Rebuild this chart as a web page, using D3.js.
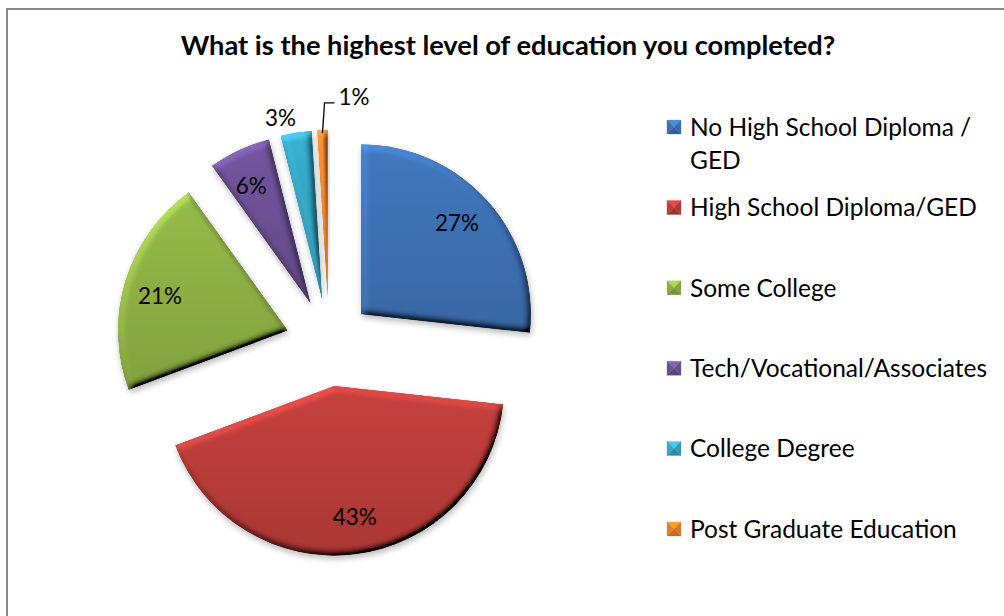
<!DOCTYPE html>
<html>
<head>
<meta charset="utf-8">
<script src="https://cdn.jsdelivr.net/npm/d3@7"></script>
<style>
  html, body { margin: 0; padding: 0; background: #fff; }
  svg { display: block; font-family: Lato, "Open Sans", sans-serif; }
</style>
</head>
<body>
<svg id="chart" width="1004" height="616"></svg>
<script>
// Survey answers and their shares (percent)
const categories = [
  "No High School Diploma / GED",
  "High School Diploma/GED",
  "Some College",
  "Tech/Vocational/Associates",
  "College Degree",
  "Post Graduate Education"
];
const values = [27, 43, 21, 6, 3, 1];
const legendLines = [
  ["No High School Diploma /", "GED"],
  ["High School Diploma/GED"],
  ["Some College"],
  ["Tech/Vocational/Associates"],
  ["College Degree"],
  ["Post Graduate Education"]
];
const colors = ["#3d70b1", "#b83c39", "#8cae44", "#6b4f93", "#35a3c2", "#e57f2a"];
const title = "What is the highest level of education you completed?";

const svg = d3.select("#chart");
const W = 1004, H = 616;

// chart frame
svg.append("rect")
  .attr("x", 7).attr("y", 9)
  .attr("width", W + 10).attr("height", H + 10)
  .attr("fill", "#fff")
  .attr("stroke", "#8a8a8a").attr("stroke-width", 2);

const defs = svg.append("defs");

// bevel lighting + soft shadow for slices
const f = defs.append("filter").attr("id", "bevel")
  .attr("x", "-20%").attr("y", "-20%").attr("width", "140%").attr("height", "140%");
f.append("feGaussianBlur").attr("in", "SourceAlpha").attr("stdDeviation", 3.5).attr("result", "blur");
const dl = f.append("feDiffuseLighting").attr("in", "blur").attr("surfaceScale", 5)
  .attr("diffuseConstant", 1).attr("lighting-color", "#fff").attr("result", "light");
dl.append("feDistantLight").attr("azimuth", 235).attr("elevation", 42);
f.append("feComposite").attr("in", "SourceGraphic").attr("in2", "light")
  .attr("operator", "arithmetic").attr("k1", 1.45).attr("k2", 0).attr("k3", 0).attr("k4", 0)
  .attr("result", "lit");
f.append("feComposite").attr("in", "lit").attr("in2", "SourceAlpha").attr("operator", "in").attr("result", "shape");
f.append("feGaussianBlur").attr("in", "SourceAlpha").attr("stdDeviation", 3).attr("result", "sb");
f.append("feOffset").attr("in", "sb").attr("dx", 1).attr("dy", 3).attr("result", "so");
f.append("feComponentTransfer").attr("in", "so").attr("result", "shadow")
  .append("feFuncA").attr("type", "linear").attr("slope", 0.28);
const fm = f.append("feMerge");
fm.append("feMergeNode").attr("in", "shadow");
fm.append("feMergeNode").attr("in", "shape");

// vertical shading per slice colour
colors.forEach((c, i) => {
  const g = defs.append("linearGradient").attr("id", "grad" + i)
    .attr("x1", 0).attr("y1", 0).attr("x2", 0).attr("y2", 1);
  g.append("stop").attr("offset", "0%").attr("stop-color", d3.color(c).brighter(0.25));
  g.append("stop").attr("offset", "100%").attr("stop-color", d3.color(c).darker(0.2));
});

function fitWidth(sel, target) {
  const fs = parseFloat(sel.attr("font-size"));
  const w = sel.node().getComputedTextLength();
  const size = fs * target / w;
  sel.attr("font-size", size.toFixed(2));
  return size;
}

// title
const titleText = svg.append("text")
  .attr("x", 508).attr("y", 55)
  .attr("text-anchor", "middle")
  .attr("font-weight", "bold").attr("font-size", 21)
  .attr("fill", "#000")
  .text(title);
fitWidth(titleText, 655);

// pie
const cx = 329, cy = 343, r = 170, explode = 43;
const pie = d3.pie().sort(null).value(d => d)(values);
const arc = d3.arc().innerRadius(0).outerRadius(r);

const pieG = svg.append("g").attr("transform", `translate(${cx},${cy})`);
const dir = a => [Math.sin(a), -Math.cos(a)];

pie.forEach(p => {
  const mid = (p.startAngle + p.endAngle) / 2;
  const [ux, uy] = dir(mid);
  p.ox = ux * explode; p.oy = uy * explode; p.mid = mid;
});

pieG.selectAll("path.slice")
  .data(pie)
  .join("path")
  .attr("class", "slice")
  .attr("transform", d => `translate(${d.ox},${d.oy})`)
  .attr("d", arc)
  .attr("fill", (d, i) => `url(#grad${i})`)
  .attr("filter", "url(#bevel)");

// data label size: "27%" spans about 44px
const probe = svg.append("text").attr("font-size", 22).text("27%");
const labelFont = fitWidth(probe, 44).toFixed(2);
probe.remove();

pie.forEach((p, i) => {
  const txt = values[i] + "%";
  if (values[i] >= 5) {
    const [ux, uy] = dir(p.mid - 0.03);
    pieG.append("text")
      .attr("x", p.ox + ux * r * 0.78)
      .attr("y", p.oy + uy * r * 0.78)
      .attr("dy", "0.36em")
      .attr("text-anchor", "middle")
      .attr("font-size", labelFont)
      .text(txt);
  } else if (values[i] >= 2) {
    const [ux, uy] = dir(p.mid - 0.07);
    pieG.append("text")
      .attr("x", p.ox + ux * r * 1.1)
      .attr("y", p.oy + uy * r * 1.1)
      .attr("dy", "0.36em")
      .attr("text-anchor", "middle")
      .attr("font-size", labelFont)
      .text(txt);
  } else {
    // leader line for the thinnest slice
    const [ux, uy] = dir(p.mid);
    const sx = p.ox + ux * (r - 3), sy = p.oy + uy * (r - 3);
    const ex = p.ox + ux * r * 1.16 + 3, ey = p.oy + uy * r * 1.16;
    pieG.append("path")
      .attr("d", `M${sx},${sy}L${ex},${ey}L${ex + 10},${ey}`)
      .attr("fill", "none").attr("stroke", "#000").attr("stroke-width", 1.3);
    pieG.append("text")
      .attr("x", ex + 14).attr("y", ey - 6)
      .attr("dy", "0.36em")
      .attr("font-size", labelFont)
      .text(txt);
  }
});

// legend
const legend = svg.append("g").attr("transform", "translate(667,0)");
const rowY = d3.scalePoint().domain(d3.range(categories.length)).range([127, 529]);
const ms = 14;
categories.forEach((c, i) => {
  const y = rowY(i);
  const g = legend.append("g").attr("transform", `translate(0,${y})`);
  const base = d3.color(colors[i]);
  const x0 = 0, y0 = -ms / 2, x1 = ms, y1 = ms / 2, mx = ms / 2, my = 0;
  const tris = [
    [[x0, y0], [x1, y0], [mx, my], base.brighter(0.6)],
    [[x1, y0], [x1, y1], [mx, my], base.darker(0.15)],
    [[x1, y1], [x0, y1], [mx, my], base.darker(0.5)],
    [[x0, y1], [x0, y0], [mx, my], base]
  ];
  tris.forEach(t => {
    g.append("path").attr("d", `M${t[0]}L${t[1]}L${t[2]}Z`).attr("fill", t[3])
      .attr("stroke", t[3]).attr("stroke-width", 0.3);
  });
  legendLines[i].forEach((line, j) => {
    g.append("text")
      .attr("class", "leg")
      .attr("x", 23).attr("y", j * 33)
      .attr("dy", "0.36em")
      .attr("font-size", 21)
      .attr("fill", "#000")
      .text(line);
  });
});
// size legend type so the widest entry spans its room
const widest = legend.selectAll("text.leg").nodes()
  .reduce((a, n) => Math.max(a, n.getComputedTextLength()), 0);
const legSize = (21 * 297 / widest).toFixed(2);
legend.selectAll("text.leg").attr("font-size", legSize);
</script>
</body>
</html>
